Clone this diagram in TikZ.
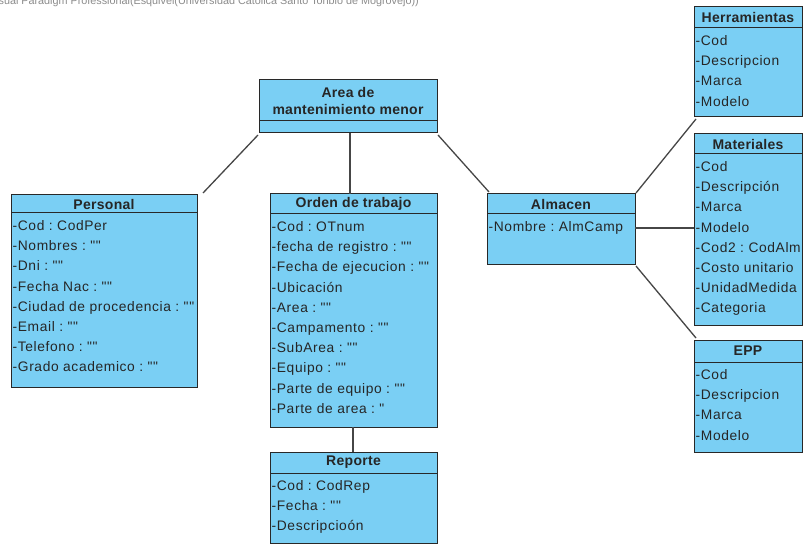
\documentclass[tikz,border=0pt]{standalone}
\usepackage{fontspec}
\setmainfont{Liberation Sans}
\newfontfamily\attrfont[LetterSpace=4.5]{Liberation Sans}
\newfontfamily\titlefont[LetterSpace=2]{Liberation Sans}
\usetikzlibrary{calc}
\frenchspacing
\definecolor{classfill}{RGB}{122,207,244}
\definecolor{classedge}{RGB}{40,40,40}
\definecolor{linkcol}{RGB}{70,70,70}
\tikzset{
  classbox/.style={draw=classedge, fill=classfill, line width=1pt, rectangle, anchor=north west, inner sep=0pt, outer sep=0pt},
  classline/.style={draw=classedge, line width=1pt},
  classtitle/.style={font=\titlefont\fontsize{14}{17}\selectfont\bfseries, inner sep=0pt, align=center, text=black!85},
  attr/.style={font=\attrfont\fontsize{13.8}{16}\selectfont, inner sep=0pt, anchor=base west, text=black!85},
  link/.style={draw=linkcol, line width=1.3pt},
}
% box: name, left, top, width, height, header height, title
\newcommand\umlclass[7]{%
  \node[classbox, minimum width=#4pt, minimum height=#5pt] (#1) at (#2,#3) {};
  \draw[classline] ([yshift=-#6pt]#1.north west) -- ([yshift=-#6pt]#1.north east);
  \node[classtitle] (#1-title) at ($(#1.north)+(0,-#6pt/2)$) {#7};
}
% attribute rows (baselines): name, header height, list of rows
\newcommand\umlattrs[3]{%
  \foreach \t [count=\i] in {#3} {
    \node[attr] (#1-a\i) at ($(#1.north west)+(1.5pt,-#2pt-17.5pt-20.2pt*\i+20.2pt)$) {\t};
  }
}
\begin{document}
\begin{tikzpicture}[x=1pt,y=-1pt]
\useasboundingbox (0,0) rectangle (803,545);
\fill[white] (0,0) rectangle (803,545);

% product banner along the top edge
\node[font=\fontsize{10.8}{12}\selectfont, text=black!45, anchor=base east, inner sep=0pt] (banner) at (419,5)
  {Visual Paradigm Professional(Esquivel(Universidad Catolica Santo Toribio de Mogrovejo))};

% classes
\umlclass{area}{259}{80}{178}{53}{41}{Area de\\mantenimiento menor}
\umlclass{personal}{11}{195}{186}{192}{18}{Personal}
\umlattrs{personal}{18}{-Cod : CodPer, -Nombres : "", -Dni : "", -Fecha Nac : "", -Ciudad de procedencia : "", -Email : "", -Telefono : "", -Grado academico : ""}

\umlclass{orden}{270}{194}{167}{233}{20}{Orden de trabajo}
\umlattrs{orden}{20}{-Cod : OTnum, -fecha de registro : "", -Fecha de ejecucion : "", -Ubicación, -Area : "", -Campamento : "", -SubArea : "", -Equipo : "", -Parte de equipo : "", -Parte de area : "}

\umlclass{reporte}{270}{452}{167}{91}{21}{Reporte}
\umlattrs{reporte}{21}{-Cod : CodRep, -Fecha : "", -Descripcioón}

\umlclass{almacen}{487}{194}{148}{71}{20}{Almacen}
\umlattrs{almacen}{20}{-Nombre : AlmCamp}

\umlclass{herr}{694}{7}{108}{110}{21}{Herramientas}
\umlattrs{herr}{21}{-Cod, -Descripcion, -Marca, -Modelo}

\umlclass{mat}{694}{134}{108}{191}{20}{Materiales}
\umlattrs{mat}{20}{-Cod, -Descripción, -Marca, -Modelo, -Cod2 : CodAlm, -Costo unitario, -UnidadMedida, -Categoria}

\umlclass{epp}{694}{340}{108}{112}{22}{EPP}
\umlattrs{epp}{22}{-Cod, -Descripcion, -Marca, -Modelo}

% associations
\draw[link] ([shift={(-1pt,-2pt)}]area.south west) -- ([shift={(6pt,2pt)}]personal.north east);
\draw[link] (area.south -| 350,0) -- (orden.north -| 350,0);
\draw[link] ([shift={(1pt,-2pt)}]area.south east) -- ([shift={(2pt,2pt)}]almacen.north west);
\draw[link] (orden.south -| 353,0) -- (reporte.north -| 353,0);
\draw[link] ([shift={(1pt,1pt)}]almacen.north east) -- ([shift={(2pt,-2pt)}]herr.south west);
\draw[link] (almacen.east |- 0,228) -- (mat.west |- 0,228);
\draw[link] ([shift={(1pt,-1pt)}]almacen.south east) -- ([shift={(2pt,2pt)}]epp.north west);
\end{tikzpicture}
\end{document}
